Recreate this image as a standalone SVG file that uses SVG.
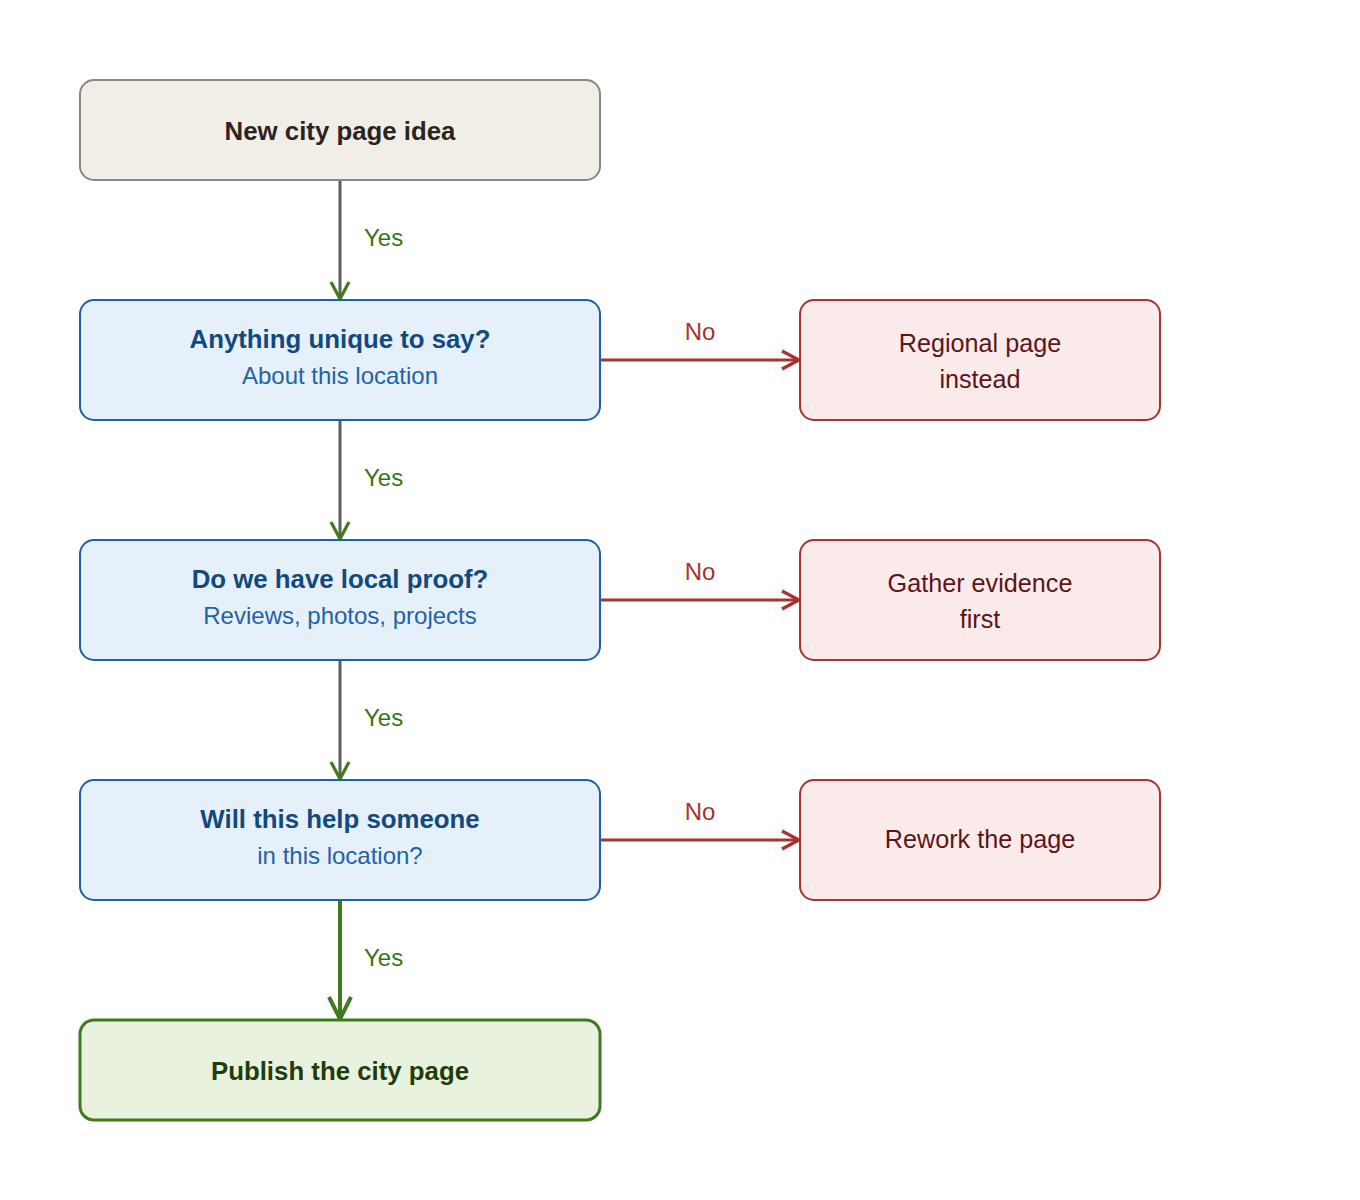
<svg xmlns="http://www.w3.org/2000/svg" width="1360" height="1200" viewBox="0 0 1360 1200">
<style>
text{font-family:"Liberation Sans",Arial,sans-serif;text-anchor:middle}
.start rect{fill:#f1eee8;stroke:#8a8681;stroke-width:2}
.dec rect{fill:#e6f0fa;stroke:#1f5fa6;stroke-width:2}
.neg rect{fill:#fbeaea;stroke:#a83232;stroke-width:2}
.end rect{fill:#e9f2de;stroke:#3f7a1f;stroke-width:3}
.t{font-weight:bold;font-size:25.8px}
.sub{font-size:24px;fill:#1f63a8}
.dec .t{fill:#124a80}
.neg text{font-size:25.2px;fill:#5c1616}
.yes{font-size:24px;fill:#3b731c;text-anchor:start}
.no{font-size:24px;fill:#a83232}
.gl{stroke:#5f5f5f;stroke-width:3;fill:none}
.rl{stroke:#a83232;stroke-width:3;fill:none}
.fl{stroke:#3f7a1f;stroke-width:4;fill:none}
</style>
<defs>
<marker id="ag" viewBox="0 0 22 22" refX="19" refY="11" markerWidth="22" markerHeight="22" markerUnits="userSpaceOnUse" orient="auto"><path d="M2,2 L19,11 L2,20" fill="none" stroke="#3f7a1f" stroke-width="3.2"/></marker>
<marker id="ar" viewBox="0 0 22 22" refX="19" refY="11" markerWidth="22" markerHeight="22" markerUnits="userSpaceOnUse" orient="auto"><path d="M2,2 L19,11 L2,20" fill="none" stroke="#a83232" stroke-width="3.2"/></marker>
<marker id="af" viewBox="0 0 26 26" refX="24" refY="13" markerWidth="26" markerHeight="26" markerUnits="userSpaceOnUse" orient="auto"><path d="M2,2 L24,13 L2,24" fill="none" stroke="#3f7a1f" stroke-width="4"/></marker>
</defs>
<rect width="1360" height="1200" fill="#ffffff"/>
<g id="connectors">
<path class="gl" d="M340,180 V299" marker-end="url(#ag)"/>
<text class="yes" x="364" y="246">Yes</text>
<path class="gl" d="M340,420 V539" marker-end="url(#ag)"/>
<text class="yes" x="364" y="486">Yes</text>
<path class="gl" d="M340,660 V779" marker-end="url(#ag)"/>
<text class="yes" x="364" y="726">Yes</text>
<path class="fl" d="M340,900 V1019" marker-end="url(#af)"/>
<text class="yes" x="364" y="966">Yes</text>
<path class="rl" d="M600,360 H799" marker-end="url(#ar)"/>
<text class="no" x="700" y="340">No</text>
<path class="rl" d="M600,600 H799" marker-end="url(#ar)"/>
<text class="no" x="700" y="580">No</text>
<path class="rl" d="M600,840 H799" marker-end="url(#ar)"/>
<text class="no" x="700" y="820">No</text>
</g>
<g id="start" class="start"><rect x="80" y="80" width="520" height="100" rx="14"/><text class="t" x="340" y="140" fill="#2b2320">New city page idea</text></g>
<g id="q1" class="dec"><rect x="80" y="300" width="520" height="120" rx="14"/><text class="t" x="340" y="348">Anything unique to say?</text><text class="sub" x="340" y="384">About this location</text></g>
<g id="q2" class="dec"><rect x="80" y="540" width="520" height="120" rx="14"/><text class="t" x="340" y="588">Do we have local proof?</text><text class="sub" x="340" y="624">Reviews, photos, projects</text></g>
<g id="q3" class="dec"><rect x="80" y="780" width="520" height="120" rx="14"/><text class="t" x="340" y="828">Will this help someone</text><text class="sub" x="340" y="864">in this location?</text></g>
<g id="n1" class="neg"><rect x="800" y="300" width="360" height="120" rx="14"/><text x="980" y="352">Regional page</text><text x="980" y="388">instead</text></g>
<g id="n2" class="neg"><rect x="800" y="540" width="360" height="120" rx="14"/><text x="980" y="592">Gather evidence</text><text x="980" y="628">first</text></g>
<g id="n3" class="neg"><rect x="800" y="780" width="360" height="120" rx="14"/><text x="980" y="848">Rework the page</text></g>
<g id="end" class="end"><rect x="80" y="1020" width="520" height="100" rx="14"/><text class="t" x="340" y="1080" fill="#1e3d0a">Publish the city page</text></g>
</svg>
